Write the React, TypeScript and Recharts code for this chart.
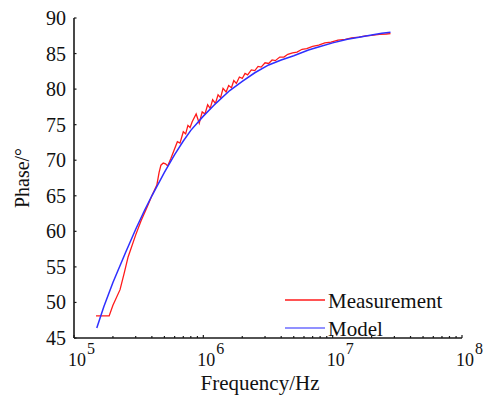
import { LineChart, Line, XAxis, YAxis, Legend } from 'recharts'

// model curve (blue)
const FREQ_MODEL = [
  1.5e5, 1.7e5, 2.0e5, 2.5e5, 3.0e5, 3.5e5, 4.0e5, 5.0e5, 6.0e5, 7.0e5, 8.0e5,
  1.0e6, 1.25e6, 1.6e6, 2.0e6, 2.5e6, 3.2e6, 4.0e6, 5.0e6, 6.5e6, 8.0e6,
  1.0e7, 1.3e7, 1.6e7, 2.0e7, 2.4e7, 2.8e7,
]
const PHASE_MODEL = [
  46.4, 49.4, 52.8, 57.0, 60.3, 62.9, 65.0, 68.3, 70.8, 72.7, 74.2,
  76.2, 78.0, 79.8, 81.1, 82.3, 83.4, 84.1, 84.7, 85.5, 86.0,
  86.5, 87.0, 87.3, 87.6, 87.85, 88.0,
]

// measured curve (red)
const FREQ_MEAS = [
  1.48e5, 1.87e5, 2.0e5, 2.27e5, 2.45e5, 2.62e5, 3.0e5, 3.3e5, 3.67e5, 4.0e5,
  4.37e5, 4.55e5, 4.7e5, 4.9e5, 5.1e5, 5.3e5, 5.6e5, 6.0e5, 6.3e5, 6.6e5,
  7.0e5, 7.3e5, 7.6e5, 7.9e5, 8.2e5, 8.8e5, 9.3e5, 9.8e5, 1.03e6, 1.08e6,
  1.13e6, 1.18e6, 1.24e6, 1.3e6, 1.36e6, 1.42e6, 1.5e6, 1.57e6, 1.65e6, 1.72e6,
  1.8e6, 1.9e6, 2.0e6, 2.1e6, 2.2e6, 2.35e6, 2.5e6, 2.65e6, 2.8e6, 3.0e6,
  3.2e6, 3.4e6, 3.6e6, 3.9e6, 4.2e6, 4.5e6, 4.9e6, 5.3e6, 5.8e6, 6.3e6,
  7.0e6, 7.8e6, 8.7e6, 9.7e6, 1.1e7, 1.25e7, 1.4e7, 1.6e7, 1.8e7, 2.0e7,
  2.3e7, 2.6e7, 2.8e7,
]
const PHASE_MEAS = [
  48.1, 48.1, 49.6, 51.8, 54.2, 56.4, 59.5, 61.5, 63.4, 65.0,
  66.5, 68.3, 69.3, 69.6, 69.5, 69.2, 70.2, 71.6, 72.6, 72.4,
  74.0, 73.7, 74.9, 74.6, 75.4, 76.5, 75.2, 76.8, 76.5, 77.8,
  77.3, 78.5, 78.0, 79.2, 78.8, 80.1, 79.6, 80.5, 80.2, 81.2,
  80.8, 81.7, 81.5, 82.2, 82.0, 82.7, 82.6, 83.2, 83.1, 83.7,
  83.6, 84.1, 84.0, 84.5, 84.5, 84.9, 85.1, 85.2, 85.6, 85.7,
  86.0, 86.2, 86.5, 86.6, 86.9, 87.0, 87.2, 87.3, 87.5, 87.55,
  87.7, 87.75, 87.8,
]

const X_DECADES = [1e5, 1e6, 1e7, 1e8]
const X_MINOR = [2, 3, 4, 5, 6, 7, 8, 9]
const Y_TICKS = [45, 50, 55, 60, 65, 70, 75, 80, 85, 90]

const modelData = FREQ_MODEL.map((f, i) => ({ f, phase: PHASE_MODEL[i] }))
const measData = FREQ_MEAS.map((f, i) => ({ f, phase: PHASE_MEAS[i] }))
const xTicks = X_DECADES.flatMap((d, i) =>
  i < X_DECADES.length - 1 ? [d, ...X_MINOR.map(m => m * d)] : [d]
)

// text inherits the page's default serif face
const AXIS = '#1a1a1a'
const INK = '#111'
const RED = '#ff1a1a'
const BLUE = '#2f2fff'

function XTick({ x, y, payload }: any) {
  const v = payload.value
  const exp = Math.round(Math.log10(v))
  const major = Math.abs(v - 10 ** exp) < 1e-6 * v
  return (
    <g>
      <line x1={x} x2={x} y1={y} y2={y - (major ? 3 : 2)} stroke={AXIS} strokeWidth={1.2} />
      {major && (
        <text x={x - 6} y={y + 28} fontSize={18} fill={INK}>
          <tspan>10</tspan>
          <tspan dx={1} dy={-12} fontSize={16}>{exp}</tspan>
        </text>
      )}
    </g>
  )
}

function YTick({ x, y, payload }: any) {
  return (
    <g>
      <line x1={x} x2={x + 2.5} y1={y} y2={y} stroke={AXIS} strokeWidth={1.2} />
      <text x={x - 8} y={y} dy="0.35em" textAnchor="end" fontSize={20} fill={INK}>
        {payload.value}
      </text>
    </g>
  )
}

function LegendBox() {
  return (
    <svg width={190} height={52} style={{ display: 'block' }}>
      <line x1={5} x2={45} y1={12} y2={12} stroke={RED} strokeWidth={1.3} />
      <text x={48} y={12} dy="0.38em" fontSize={21} fill={INK}>Measurement</text>
      <line x1={5} x2={45} y1={40} y2={40} stroke={BLUE} strokeWidth={1.6} strokeOpacity={0.7} />
      <text x={48} y={40} dy="0.38em" fontSize={21} fill={INK}>Model</text>
    </svg>
  )
}

export default function App() {
  return (
    <div style={{ position: 'absolute', left: 0, top: 0, width: 484, height: 400, background: '#fff' }}>
      <LineChart width={484} height={400} margin={{ top: 18, right: 22, bottom: 12, left: 0 }}>
        <XAxis
          type="number"
          dataKey="f"
          scale="log"
          domain={[1e5, 1e8]}
          allowDataOverflow
          ticks={xTicks}
          interval={0}
          height={50}
          tickSize={0}
          tickMargin={0}
          tickLine={false}
          tick={<XTick />}
          axisLine={{ stroke: AXIS, strokeWidth: 1.6 }}
          label={{
            content: ({ viewBox }: any) => (
              <text x={viewBox.x + 186} y={viewBox.y + 52} textAnchor="middle" fontSize={21} fill={INK}>
                Frequency/Hz
              </text>
            ),
          }}
        />
        <YAxis
          type="number"
          domain={[45, 90]}
          ticks={Y_TICKS}
          interval={0}
          width={74}
          tickSize={0}
          tickMargin={0}
          tickLine={false}
          tick={<YTick />}
          axisLine={{ stroke: AXIS, strokeWidth: 1.6 }}
          label={{
            content: ({ viewBox }: any) => {
              const cx = 22
              const cy = viewBox.y + viewBox.height / 2
              return (
                <text
                  x={cx}
                  y={cy}
                  dy="0.35em"
                  textAnchor="middle"
                  fontSize={20}
                  fill={INK}
                  transform={`rotate(-90, ${cx}, ${cy})`}
                >
                  Phase/°
                </text>
              )
            },
          }}
        />
        <Line data={measData} dataKey="phase" stroke={RED} strokeWidth={1.3} dot={false} isAnimationActive={false} />
        <Line data={modelData} dataKey="phase" stroke={BLUE} strokeWidth={1.5} dot={false} isAnimationActive={false} />
        <Legend
          layout="vertical"
          align="center"
          verticalAlign="middle"
          content={<LegendBox />}
          wrapperStyle={{ left: 280, top: 288, width: 190 }}
        />
      </LineChart>
    </div>
  )
}
